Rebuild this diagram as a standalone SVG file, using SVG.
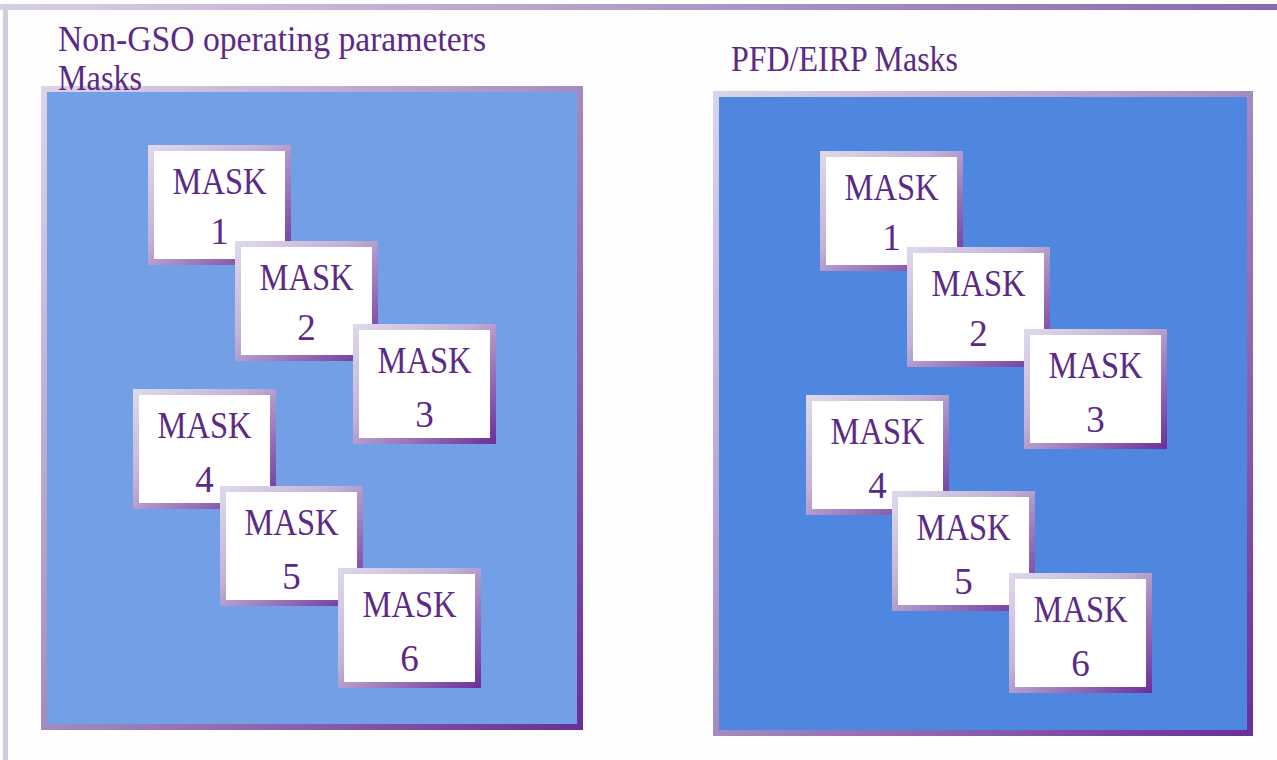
<svg xmlns="http://www.w3.org/2000/svg" width="1277" height="760" viewBox="0 0 1277 760">
  <defs>
    <linearGradient id="gTop" x1="0" y1="0" x2="1" y2="0">
      <stop offset="0" stop-color="#D7CFE3"/>
      <stop offset="1" stop-color="#8A69AD"/>
    </linearGradient>
    <linearGradient id="gFrame" x1="0" y1="0" x2="1" y2="1">
      <stop offset="0" stop-color="#DCD4E8"/>
      <stop offset="0.45" stop-color="#A994C4"/>
      <stop offset="1" stop-color="#6A2E98"/>
    </linearGradient>
    <linearGradient id="gBox" x1="0" y1="0" x2="1" y2="1">
      <stop offset="0" stop-color="#E0D9EB"/>
      <stop offset="0.4" stop-color="#C2B3D6"/>
      <stop offset="1" stop-color="#6B2E99"/>
    </linearGradient>
  </defs>
  <style>
    .lbl { font-family: "Liberation Serif", "Times New Roman", serif; fill: #5B2A86; }
    .title { font-size: 35px; }
    .mask { font-size: 37px; text-anchor: middle; }
    .edge { fill: url(#gBox); }
    .face { fill: #FFFFFF; }
  </style>

  <!-- page -->
  <rect x="0" y="0" width="1277" height="760" fill="#FDFDFE"/>
  <rect x="0" y="4" width="1277" height="6" fill="url(#gTop)"/>
  <rect x="3" y="4" width="5" height="756" fill="#D3CBE1"/>

  <!-- left panel -->
  <g id="panel-nongso">
    <rect x="41" y="86" width="542" height="644" fill="url(#gFrame)"/>
    <rect x="47" y="92" width="530" height="632" fill="#729FE6"/>
  </g>

  <!-- right panel -->
  <g id="panel-pfd">
    <rect x="713" y="91" width="540" height="645" fill="url(#gFrame)"/>
    <rect x="719" y="97" width="528" height="633" fill="#4F87E0"/>
  </g>

  <!-- titles -->
  <g id="title-nongso">
    <text class="lbl title" x="58" y="51" textLength="428" lengthAdjust="spacingAndGlyphs">Non-GSO operating parameters</text>
    <text class="lbl title" x="58" y="90" textLength="84" lengthAdjust="spacingAndGlyphs">Masks</text>
  </g>
  <g id="title-pfd">
    <text class="lbl title" x="731" y="71" textLength="227" lengthAdjust="spacingAndGlyphs">PFD/EIRP Masks</text>
  </g>

  <!-- masks, left panel -->
  <g id="ng-mask1" transform="translate(148,145)">
    <rect class="edge" width="143" height="120"/><rect class="face" x="6" y="6" width="131" height="108"/>
    <text class="lbl mask" x="71.5" y="49" textLength="94" lengthAdjust="spacingAndGlyphs">MASK</text>
    <text class="lbl mask" x="71.5" y="99">1</text>
  </g>
  <g id="ng-mask2" transform="translate(235,241)">
    <rect class="edge" width="143" height="120"/><rect class="face" x="6" y="6" width="131" height="108"/>
    <text class="lbl mask" x="71.5" y="49" textLength="94" lengthAdjust="spacingAndGlyphs">MASK</text>
    <text class="lbl mask" x="71.5" y="99">2</text>
  </g>
  <g id="ng-mask3" transform="translate(353,324)">
    <rect class="edge" width="143" height="120"/><rect class="face" x="6" y="6" width="131" height="108"/>
    <text class="lbl mask" x="71.5" y="49" textLength="94" lengthAdjust="spacingAndGlyphs">MASK</text>
    <text class="lbl mask" x="71.5" y="103">3</text>
  </g>
  <g id="ng-mask4" transform="translate(133,389)">
    <rect class="edge" width="143" height="120"/><rect class="face" x="6" y="6" width="131" height="108"/>
    <text class="lbl mask" x="71.5" y="49" textLength="94" lengthAdjust="spacingAndGlyphs">MASK</text>
    <text class="lbl mask" x="71.5" y="103">4</text>
  </g>
  <g id="ng-mask5" transform="translate(220,486)">
    <rect class="edge" width="143" height="120"/><rect class="face" x="6" y="6" width="131" height="108"/>
    <text class="lbl mask" x="71.5" y="49" textLength="94" lengthAdjust="spacingAndGlyphs">MASK</text>
    <text class="lbl mask" x="71.5" y="103">5</text>
  </g>
  <g id="ng-mask6" transform="translate(338,568)">
    <rect class="edge" width="143" height="120"/><rect class="face" x="6" y="6" width="131" height="108"/>
    <text class="lbl mask" x="71.5" y="49" textLength="94" lengthAdjust="spacingAndGlyphs">MASK</text>
    <text class="lbl mask" x="71.5" y="103">6</text>
  </g>

  <!-- masks, right panel -->
  <g id="pfd-mask1" transform="translate(820,151)">
    <rect class="edge" width="143" height="120"/><rect class="face" x="6" y="6" width="131" height="108"/>
    <text class="lbl mask" x="71.5" y="49" textLength="94" lengthAdjust="spacingAndGlyphs">MASK</text>
    <text class="lbl mask" x="71.5" y="99">1</text>
  </g>
  <g id="pfd-mask2" transform="translate(907,247)">
    <rect class="edge" width="143" height="120"/><rect class="face" x="6" y="6" width="131" height="108"/>
    <text class="lbl mask" x="71.5" y="49" textLength="94" lengthAdjust="spacingAndGlyphs">MASK</text>
    <text class="lbl mask" x="71.5" y="99">2</text>
  </g>
  <g id="pfd-mask3" transform="translate(1024,329)">
    <rect class="edge" width="143" height="120"/><rect class="face" x="6" y="6" width="131" height="108"/>
    <text class="lbl mask" x="71.5" y="49" textLength="94" lengthAdjust="spacingAndGlyphs">MASK</text>
    <text class="lbl mask" x="71.5" y="103">3</text>
  </g>
  <g id="pfd-mask4" transform="translate(806,395)">
    <rect class="edge" width="143" height="120"/><rect class="face" x="6" y="6" width="131" height="108"/>
    <text class="lbl mask" x="71.5" y="49" textLength="94" lengthAdjust="spacingAndGlyphs">MASK</text>
    <text class="lbl mask" x="71.5" y="103">4</text>
  </g>
  <g id="pfd-mask5" transform="translate(892,491)">
    <rect class="edge" width="143" height="120"/><rect class="face" x="6" y="6" width="131" height="108"/>
    <text class="lbl mask" x="71.5" y="49" textLength="94" lengthAdjust="spacingAndGlyphs">MASK</text>
    <text class="lbl mask" x="71.5" y="103">5</text>
  </g>
  <g id="pfd-mask6" transform="translate(1009,573)">
    <rect class="edge" width="143" height="120"/><rect class="face" x="6" y="6" width="131" height="108"/>
    <text class="lbl mask" x="71.5" y="49" textLength="94" lengthAdjust="spacingAndGlyphs">MASK</text>
    <text class="lbl mask" x="71.5" y="103">6</text>
  </g>
</svg>
